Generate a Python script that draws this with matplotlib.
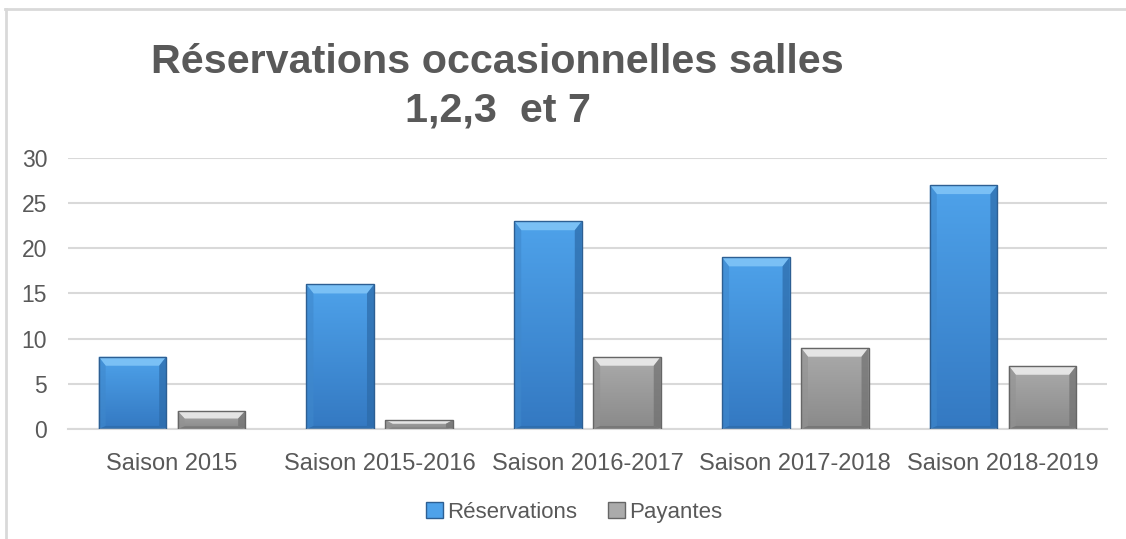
import numpy as np
import matplotlib
matplotlib.use('Agg')
import matplotlib.pyplot as plt
from matplotlib.patches import Polygon, Patch
from matplotlib.lines import Line2D

plt.rcParams['font.family'] = ['Liberation Sans', 'DejaVu Sans']

categories = ['Saison 2015', 'Saison 2015-2016', 'Saison 2016-2017',
              'Saison 2017-2018', 'Saison 2018-2019']
reservations = [8, 16, 23, 19, 27]
payantes = [2, 1, 8, 9, 7]
series_names = ['Réservations', 'Payantes']
title = 'Réservations occasionnelles salles\n1,2,3  et 7'

TXT = '#595959'
GRID = '#d9d9d9'

# colour sets: body top, body bottom, top bevel, side, bottom, edge
BLUE = dict(top='#4ea2ea', bottom='#3479c2', bevel='#80c4f7',
            side='#3f88cc', low='#2c6aa8', edge='#2d5f93')
GREY = dict(top='#ababab', bottom='#8a8a8a', bevel='#ececec',
            side='#929292', low='#707070', edge='#666666')


def bevel_bar(ax, rect, c, px_x, px_y):
    x0, w, h = rect.get_x(), rect.get_width(), rect.get_height()
    x1 = x0 + w
    rect.set_visible(False)
    # vertical gradient body
    grad = np.linspace(0, 1, 64).reshape(-1, 1)
    cmap = matplotlib.colors.LinearSegmentedColormap.from_list(
        'g', [c['bottom'], c['top']])
    im = ax.imshow(grad, extent=(x0, x1, 0, h), origin='lower', cmap=cmap,
                   aspect='auto', zorder=2, interpolation='bilinear')
    clip = plt.Rectangle((x0, 0), w, h, transform=ax.transData)
    im.set_clip_path(clip)
    bx = 7 * px_x
    by = min(9 * px_y, h * 0.42)
    bb = min(3 * px_y, h * 0.15)
    polys = [
        ([(x0, h), (x1, h), (x1 - bx, h - by), (x0 + bx, h - by)], c['bevel'], 0.9),
        ([(x0, 0), (x0, h), (x0 + bx, h - by), (x0 + bx, bb)], c['side'], 0.6),
        ([(x1, 0), (x1, h), (x1 - bx, h - by), (x1 - bx, bb)], c['low'], 0.7),
        ([(x0, 0), (x1, 0), (x1 - bx, bb), (x0 + bx, bb)], c['low'], 0.7),
    ]
    for pts, col, a in polys:
        ax.add_patch(Polygon(pts, closed=True, facecolor=col, edgecolor='none',
                             alpha=a, zorder=3))
    ax.add_patch(plt.Rectangle((x0, 0), w, h, facecolor='none',
                               edgecolor=c['edge'], lw=1.0, zorder=4))


fig = plt.figure(figsize=(11.26, 5.39), dpi=100)
ax = fig.add_axes([0.0604, 0.2041, 0.9227, 0.5028])

x = np.arange(len(categories))
width = 0.325
off = 0.19
bars1 = ax.bar(x - off, reservations, width, color=BLUE['top'])
bars2 = ax.bar(x + off, payantes, width, color=GREY['top'])

ax.set_xlim(-0.5, len(categories) - 0.5)
ax.set_ylim(0, 30)
ax.set_yticks(np.arange(0, 31, 5))
ax.set_xticks(x)
ax.set_xticklabels(categories)
ax.yaxis.grid(True, color=GRID, lw=1.5, zorder=0)
ax.set_axisbelow(True)
for s in ['top', 'right', 'left']:
    ax.spines[s].set_visible(False)
ax.spines['bottom'].set_color(GRID)
ax.spines['bottom'].set_linewidth(1.5)
ax.tick_params(axis='y', length=0, pad=15, labelsize=16.5, labelcolor=TXT)
ax.tick_params(axis='x', length=0, pad=17, labelsize=17, labelcolor=TXT)

# pixel size in data units
fig.canvas.draw()
bbox = ax.get_window_extent()
px_x = (len(categories)) / bbox.width
px_y = 30 / bbox.height
for r in bars1:
    bevel_bar(ax, r, BLUE, px_x, px_y)
for r in bars2:
    bevel_bar(ax, r, GREY, px_x, px_y)

fig.text(0.442, 0.840, title, ha='center', va='center', fontsize=29.7,
         fontweight='bold', color=TXT, linespacing=1.32)

handles = [Patch(facecolor=BLUE['top'], edgecolor=BLUE['edge']),
           Patch(facecolor=GREY['top'], edgecolor=GREY['edge'])]
fig.legend(handles, series_names, loc='center', bbox_to_anchor=(0.51, 0.05),
           ncol=2, frameon=False, fontsize=16, labelcolor=TXT,
           handlelength=0.75, handleheight=0.75, handletextpad=0.2,
           columnspacing=1.4)

# outer chart frame (partially visible)
fig.add_artist(Line2D([0.004, 1.0], [1 - 9 / 539, 1 - 9 / 539],
                      transform=fig.transFigure, color=GRID, lw=2))
fig.add_artist(Line2D([6 / 1126, 6 / 1126], [0, 1 - 9 / 539],
                      transform=fig.transFigure, color=GRID, lw=2))

fig.savefig('out.png', dpi=100)
